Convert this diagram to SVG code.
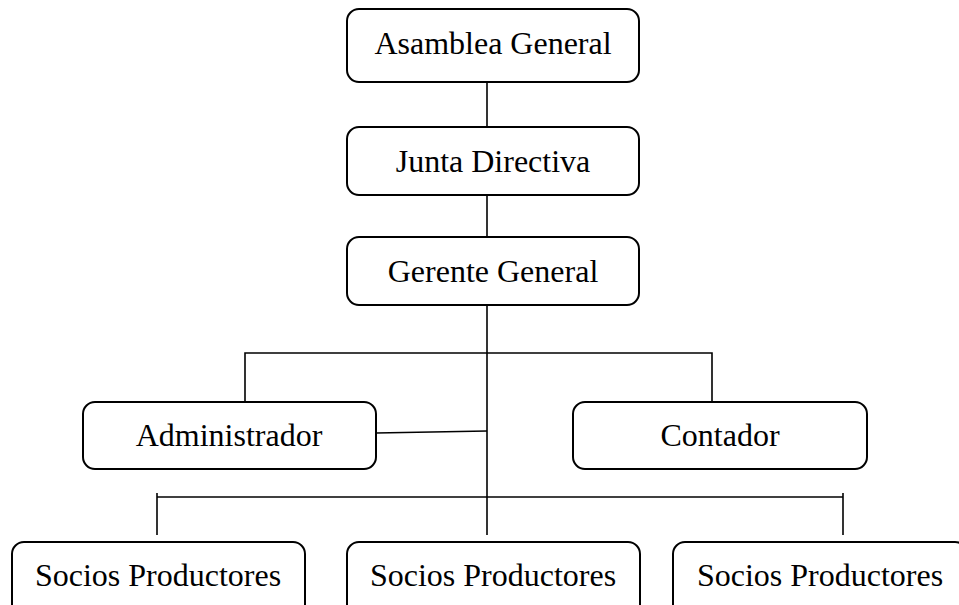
<svg xmlns="http://www.w3.org/2000/svg" width="959" height="605" viewBox="0 0 959 605">
<style>
.box{fill:#fff;stroke:#000;stroke-width:2}
.lbl{font-family:"Liberation Serif","Times New Roman",serif;font-size:32px;fill:#000;text-anchor:middle}
.ln{stroke:#000;stroke-width:1.6;fill:none}
</style>
<rect width="959" height="605" fill="#fff"/>
<g id="connectors">
<line class="ln" x1="487" y1="82" x2="487" y2="127"/>
<line class="ln" x1="487" y1="195" x2="487" y2="237"/>
<line class="ln" x1="487" y1="305" x2="487" y2="535"/>
<polyline class="ln" points="245,402 245,353 712,353 712,402"/>
<line class="ln" x1="376" y1="433" x2="487" y2="431"/>
<line class="ln" x1="157" y1="497" x2="843" y2="497"/>
<line class="ln" x1="157" y1="493" x2="157" y2="535"/>
<line class="ln" x1="843" y1="493" x2="843" y2="535"/>
</g>
<g id="asamblea"><rect class="box" x="347" y="9" width="292" height="73" rx="12"/><text class="lbl" x="493" y="54">Asamblea General</text></g>
<g id="junta"><rect class="box" x="347" y="127" width="292" height="68" rx="12"/><text class="lbl" x="493" y="172">Junta Directiva</text></g>
<g id="gerente"><rect class="box" x="347" y="237" width="292" height="68" rx="12"/><text class="lbl" x="493" y="282">Gerente General</text></g>
<g id="administrador"><rect class="box" x="83" y="402" width="293" height="67" rx="12"/><text class="lbl" x="229" y="446">Administrador</text></g>
<g id="contador"><rect class="box" x="573" y="402" width="294" height="67" rx="12"/><text class="lbl" x="720" y="446">Contador</text></g>
<g id="socios1"><rect class="box" x="12" y="542" width="293" height="80" rx="12"/><text class="lbl" x="158" y="586">Socios Productores</text></g>
<g id="socios2"><rect class="box" x="347" y="542" width="293" height="80" rx="12"/><text class="lbl" x="493" y="586">Socios Productores</text></g>
<g id="socios3"><rect class="box" x="673" y="542" width="294" height="80" rx="12"/><text class="lbl" x="820" y="586">Socios Productores</text></g>
</svg>
